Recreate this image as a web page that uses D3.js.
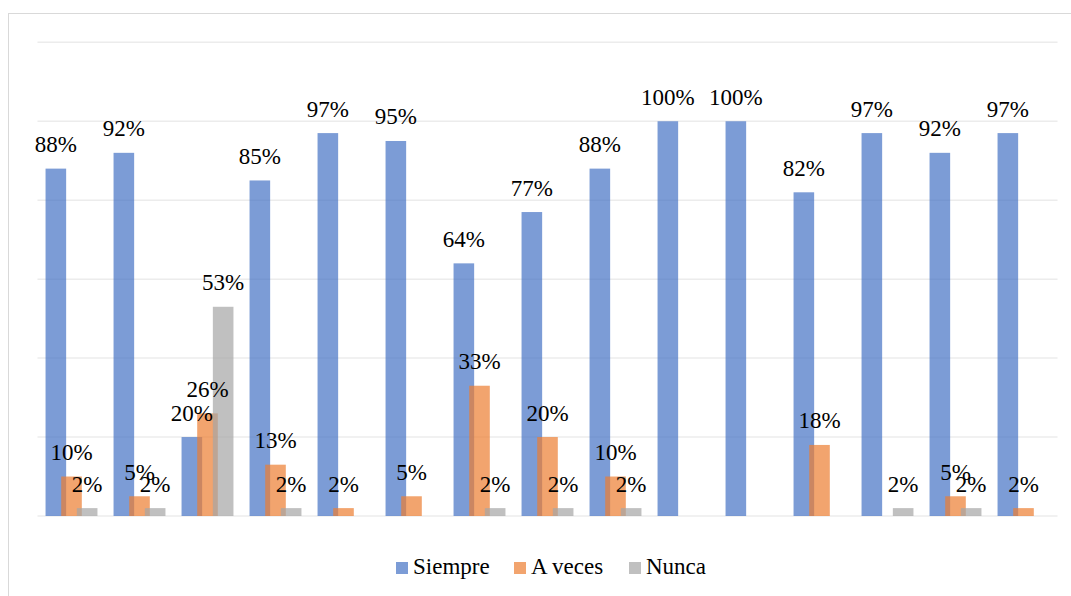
<!DOCTYPE html>
<html><head><meta charset="utf-8">
<script src="https://cdn.jsdelivr.net/npm/d3@7"></script>
<style>body{margin:0;background:#fff}svg{display:block}
svg text{font-family:"Liberation Serif","Times New Roman",serif !important}</style>
</head><body>
<svg id="c" width="1071" height="596"></svg>
<script>
const groups = ["1","2","3","4","5","6","7","8","9","10","11","12","13","14","15"];
const seriesNames = ["Siempre","A veces","Nunca"];
const siempre = [88,92,20,85,97,95,64,77,88,100,100,82,97,92,97];
const aVeces  = [10,5,26,13,2,5,33,20,10,0,0,18,0,5,2];
const nunca   = [2,2,53,2,0,0,2,2,2,0,0,0,2,2,0];
const gridTicks = [0,20,40,60,80,100,120];
const colors = ["#4472C4","#ED7D31","#A5A5A5"];

const values = [siempre, aVeces, nunca];
const svg = d3.select("#c");
const FONT = '"Liberation Serif", "Times New Roman", serif';

svg.append("rect").attr("x",8.5).attr("y",13.5).attr("width",1070).attr("height",600)
  .attr("fill","none").attr("stroke","#d9d9d9").attr("stroke-width",1);

const x = d3.scaleBand().domain(groups).range([37.5,1057.5]);
const y = d3.scaleLinear().domain([0,120]).range([516,42.3]);
const off = d3.scalePoint().domain(seriesNames).range([-15.65,15.65]);
const bw = 20.6;

svg.append("g").selectAll("line").data(gridTicks).join("line")
  .attr("x1",37.5).attr("x2",1057.5)
  .attr("y1",d=>y(d)).attr("y2",d=>y(d))
  .attr("stroke","#ececec").attr("stroke-width",1.5);

seriesNames.forEach((s,si)=>{
  const data = groups.map((g,i)=>({g, v: values[si][i]})).filter(d=>d.v>0);
  const cx = d => x(d.g)+x.bandwidth()/2+off(s);
  svg.append("g").selectAll("rect").data(data).join("rect")
    .attr("x",d=>cx(d)-bw/2).attr("width",bw)
    .attr("y",d=>y(d.v)).attr("height",d=>y(0)-y(d.v))
    .attr("fill",colors[si]).attr("fill-opacity",0.7);
});
seriesNames.forEach((s,si)=>{
  const data = groups.map((g,i)=>({g, v: values[si][i]})).filter(d=>d.v>0);
  const cx = d => x(d.g)+x.bandwidth()/2+off(s);
  svg.append("g").selectAll("text").data(data).join("text")
    .attr("x",d=>cx(d)).attr("y",d=>y(d.v)-16.5)
    .attr("text-anchor","middle")
    .style("font-family",FONT,"important").style("font-size","23px","important")
    .attr("fill","#000").text(d=>d.v+"%");
});

const positions = [396, 514, 629];
seriesNames.forEach((s,si)=>{
  const px = positions[si];
  svg.append("rect").attr("x",px).attr("y",562).attr("width",12).attr("height",12)
    .attr("fill",colors[si]).attr("fill-opacity",0.7);
  svg.append("text").attr("x",px+17).attr("y",573.5)
    .style("font-family",FONT,"important").style("font-size","23px","important")
    .attr("fill","#000").text(s);
});
</script>
</body></html>
